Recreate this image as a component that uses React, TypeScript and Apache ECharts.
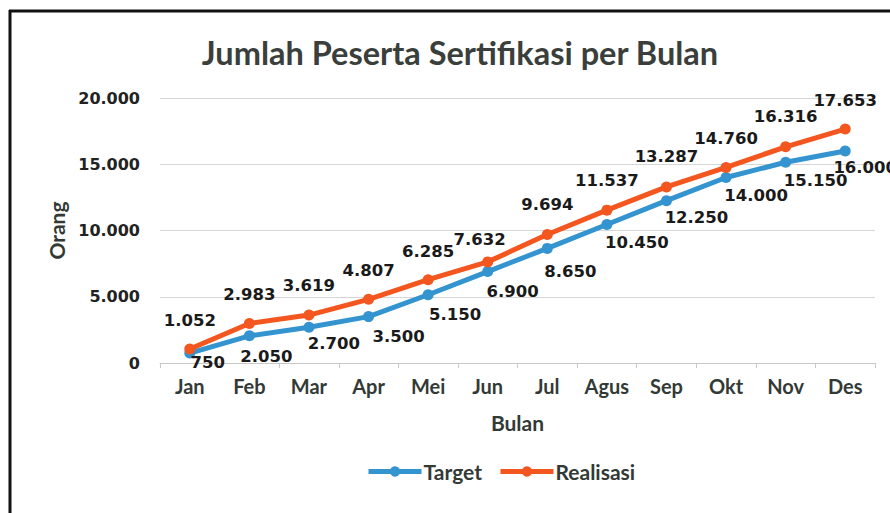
import React, { useEffect, useRef } from "react";
import * as echarts from "echarts";

const months = ["Jan", "Feb", "Mar", "Apr", "Mei", "Jun", "Jul", "Agus", "Sep", "Okt", "Nov", "Des"];
const target = [750, 2050, 2700, 3500, 5150, 6900, 8650, 10450, 12250, 14000, 15150, 16000];
const realisasi = [1052, 2983, 3619, 4807, 6285, 7632, 9694, 11537, 13287, 14760, 16316, 17653];

// label offsets (style only)
const targetLabelOffset = [[18, 9], [17, 21], [25, 16], [30, 20], [27, 20], [25, 20], [23, 23], [30, 18], [30, 17], [30, 18], [30, 18], [20, 16]];
const realLabelOffset = [[0, -29], [0, -29], [0, -30], [0, -29], [0, -28], [-8, -22], [0, -30], [0, -30], [0, -30], [0, -29], [0, -30], [0, -29]];

const fmt = (v: number) => v.toLocaleString("de-DE");

const BLUE = "#3494cf";
const ORANGE = "#f4561f";
const TXT = "#333a36";
const NUMFONT = "DejaVu Sans";
const WORDFONT = "Lato";

export default function App() {
  const ref = useRef<HTMLDivElement>(null);
  useEffect(() => {
    if (!ref.current) return;
    const chart = echarts.init(ref.current, null, { renderer: "svg" });
    const mk = (vals: number[], offs: number[][]) =>
      vals.map((v, i) => ({ value: v, label: { offset: offs[i] } }));
    chart.setOption({
      animation: false,
      backgroundColor: "#ffffff",
      title: {
        text: "Jumlah Peserta Sertifikasi per Bulan",
        left: 455,
        textAlign: "center",
        top: 31,
        textStyle: { fontFamily: WORDFONT, fontWeight: "bold", fontSize: 32.5, color: "#3a3f3c" },
      },
      legend: {
        top: 456,
        left: 361,
        itemWidth: 53,
        itemHeight: 13,
        itemGap: 16,
        lineStyle: { width: 5 },
        textStyle: { fontFamily: WORDFONT, fontWeight: "bold", fontSize: 21, color: TXT, padding: [0, 0, 0, -3] },
        data: ["Target", "Realisasi"],
      },
      grid: { left: 160, right: 15, top: 98, bottom: 150 },
      xAxis: {
        type: "category",
        data: months,
        boundaryGap: true,
        name: "Bulan",
        nameLocation: "middle",
        nameGap: 49,
        nameTextStyle: { fontFamily: WORDFONT, fontWeight: "bold", fontSize: 21, color: TXT },
        axisLine: { lineStyle: { color: "#c8c8c8", width: 1 } },
        axisTick: { show: true, length: 5, lineStyle: { color: "#c8c8c8" } },
        axisLabel: { fontFamily: WORDFONT, fontWeight: "bold", fontSize: 20, color: TXT, margin: 13 },
      },
      yAxis: {
        type: "value",
        min: 0,
        max: 20000,
        interval: 5000,
        name: "Orang",
        nameLocation: "middle",
        nameRotate: 90,
        nameGap: 90,
        nameTextStyle: { fontFamily: WORDFONT, fontWeight: "bold", fontSize: 21, color: TXT },
        axisLine: { show: false },
        axisTick: { show: false },
        splitLine: { lineStyle: { color: "#d6d6d6", width: 1 } },
        axisLabel: { formatter: (v: number) => fmt(v), fontFamily: NUMFONT, fontWeight: "bold", fontSize: 16, color: "#222", margin: 20 },
      },
      series: [
        {
          name: "Target",
          type: "line",
          data: mk(target, targetLabelOffset),
          color: BLUE,
          symbol: "circle",
          symbolSize: 11,
          lineStyle: { width: 5, color: BLUE },
          itemStyle: { color: BLUE },
          label: {
            show: true,
            position: "inside",
            formatter: (p: any) => fmt(p.value),
            fontFamily: NUMFONT,
            fontWeight: "bold",
            fontSize: 16.5,
            color: "#1a1a1a",
          },
          z: 3,
        },
        {
          name: "Realisasi",
          type: "line",
          data: mk(realisasi, realLabelOffset),
          color: ORANGE,
          symbol: "circle",
          symbolSize: 11,
          lineStyle: { width: 5, color: ORANGE },
          itemStyle: { color: ORANGE },
          label: {
            show: true,
            position: "inside",
            formatter: (p: any) => fmt(p.value),
            fontFamily: NUMFONT,
            fontWeight: "bold",
            fontSize: 16.5,
            color: "#1a1a1a",
          },
          z: 4,
        },
      ],
      graphic: [
        { type: "line", shape: { x1: 10, y1: 10, x2: 10, y2: 513 }, style: { stroke: "#111", lineWidth: 3 } },
        { type: "line", shape: { x1: 9, y1: 11, x2: 890, y2: 11 }, style: { stroke: "#111", lineWidth: 3 } },
      ],
    });
    return () => chart.dispose();
  }, []);
  return (
    <div
      ref={ref}
      style={{ position: "absolute", left: 0, top: 0, width: 890, height: 513, background: "#fff" }}
    />
  );
}
